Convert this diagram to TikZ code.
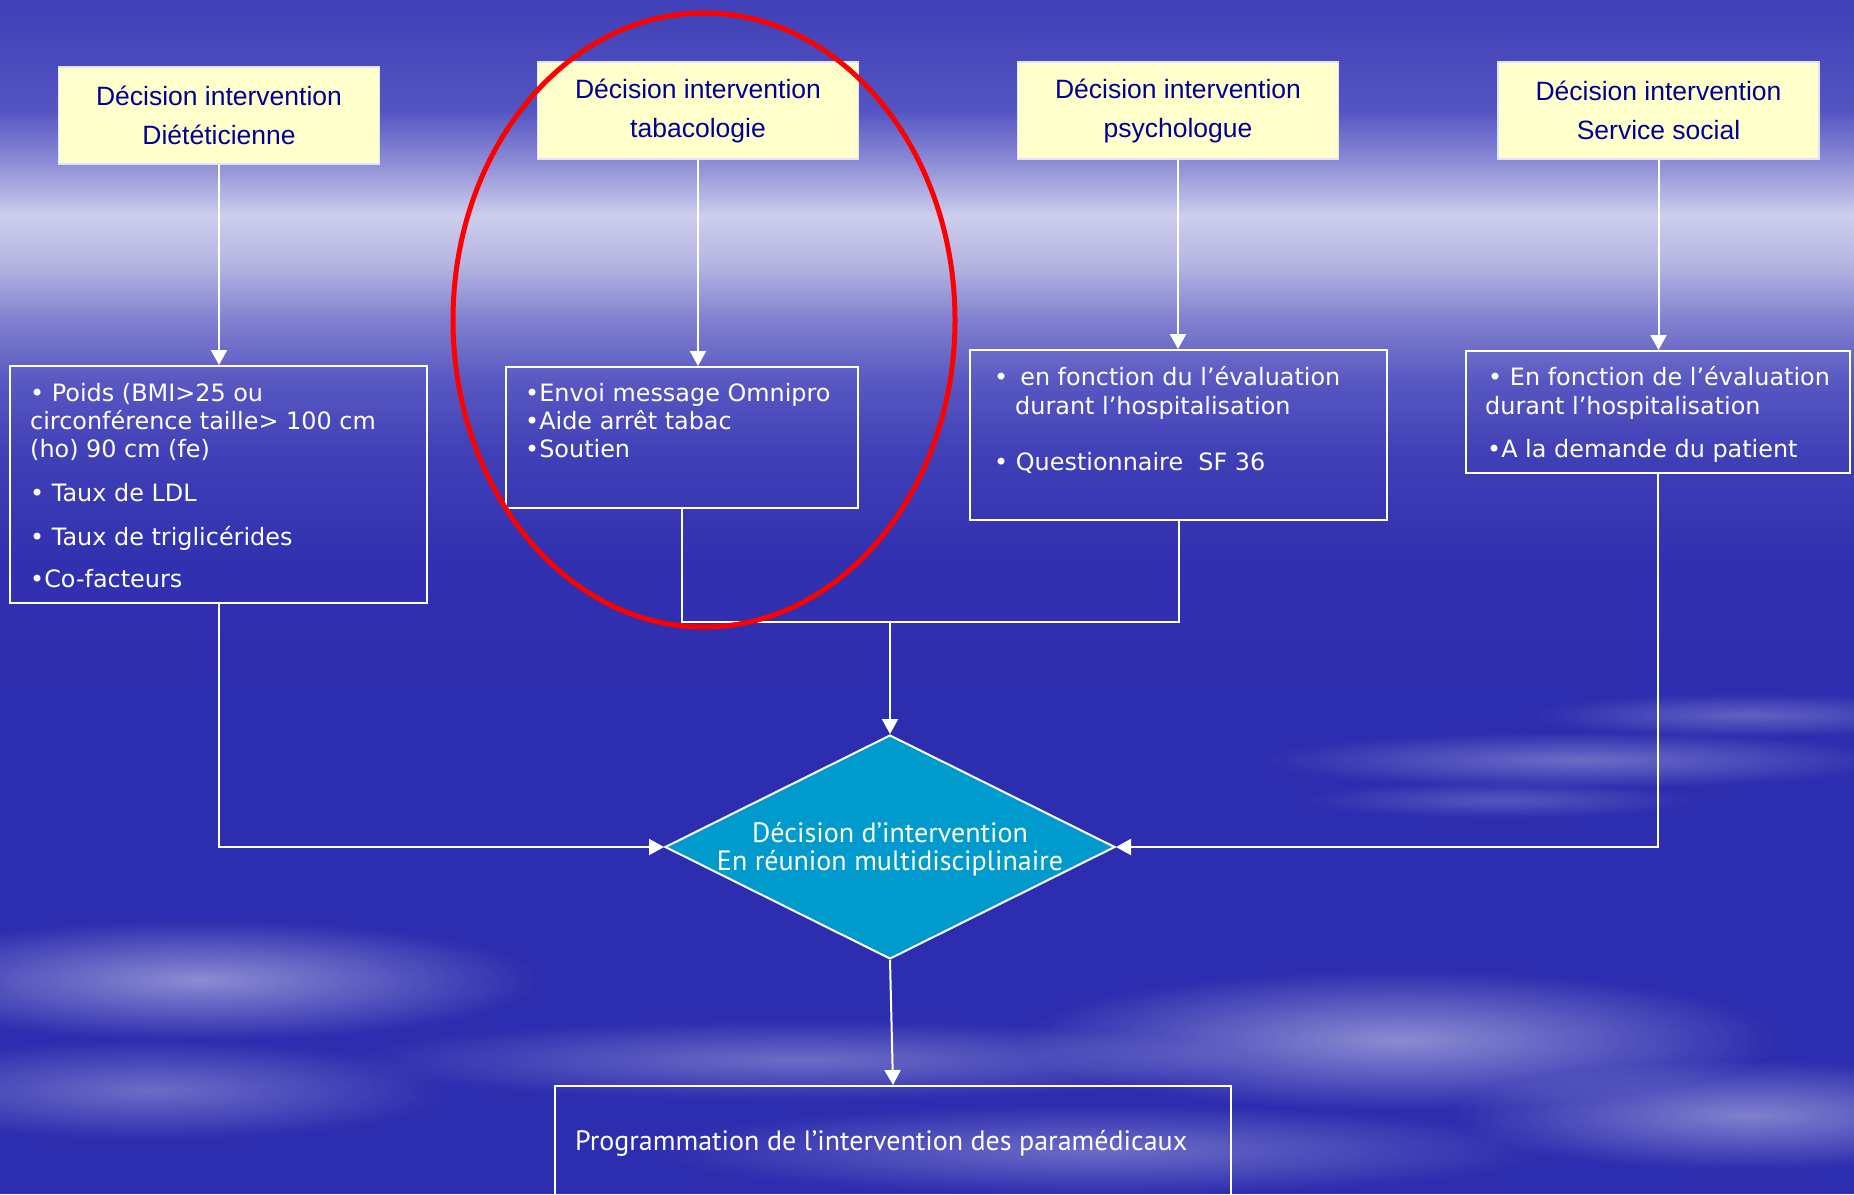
\documentclass[tikz,border=0pt]{standalone}
\usepackage{fontspec}
\setmainfont{Liberation Sans}
\newfontfamily\listfont{DejaVu Sans}
\newfontfamily\narrowfont{PT Sans}
\usetikzlibrary{arrows.meta,shapes.geometric,fadings}

% palette
\definecolor{skybase}{RGB}{45,45,175}
\definecolor{sky0}{RGB}{64,64,184}
\definecolor{sky1}{RGB}{84,84,194}
\definecolor{sky2}{RGB}{150,150,218}
\definecolor{sky3}{RGB}{205,205,236}
\definecolor{sky4}{RGB}{180,180,226}
\definecolor{sky5}{RGB}{128,128,207}
\definecolor{sky6}{RGB}{88,88,194}
\definecolor{sky7}{RGB}{62,62,182}
\definecolor{sky8}{RGB}{48,48,176}
\definecolor{navytext}{RGB}{0,0,150}
\definecolor{paleyellow}{RGB}{255,255,204}
\definecolor{decisioncyan}{RGB}{0,155,204}
\definecolor{frameline}{RGB}{225,225,250}

\tikzfading[name=softcloud, inner color=transparent!0, outer color=transparent!100]

\begin{document}
\begin{tikzpicture}[x=1pt,y=-1pt,
  ybox/.style={draw=frameline, line width=1.5pt, fill=paleyellow,
    minimum width=321pt, minimum height=97pt, inner sep=0pt,
    align=center, text=navytext, font=\fontsize{26.5}{39}\selectfont},
  wbox/.style={draw=white, line width=2pt, inner sep=0pt},
  wtext/.style={anchor=base west, inner sep=0pt, text=white,
    font=\listfont\fontsize{23.9}{28.4}\selectfont},
  ntext/.style={inner sep=0pt, text=white,
    font=\narrowfont\fontsize{28}{28.4}\selectfont},
  conn/.style={draw=white, line width=2pt},
  arr/.style={conn, -{Triangle[length=15pt,width=16pt]}},
  cloud/.style={fill=white, path fading=softcloud}
]

\useasboundingbox (0,0) rectangle (1854,1194);
\clip (0,0) rectangle (1854,1194);

% ---- sky background ----
\fill[skybase] (0,0) rectangle (1854,1194);
\shade[top color=sky0, bottom color=sky1] (0,0) rectangle (1854,110.5);
\shade[top color=sky1, bottom color=sky2] (0,110) rectangle (1854,170.5);
\shade[top color=sky2, bottom color=sky3] (0,170) rectangle (1854,215.5);
\shade[top color=sky3, bottom color=sky4] (0,215) rectangle (1854,265.5);
\shade[top color=sky4, bottom color=sky5] (0,265) rectangle (1854,320.5);
\shade[top color=sky5, bottom color=sky6] (0,320) rectangle (1854,380.5);
\shade[top color=sky6, bottom color=sky7] (0,380) rectangle (1854,460.5);
\shade[top color=sky7, bottom color=sky8] (0,460) rectangle (1854,570.5);
\shade[top color=sky8, bottom color=skybase] (0,570) rectangle (1854,700);

% soft clouds in the lower part
\fill[cloud, fill opacity=.45] (200,980) ellipse [x radius=340pt, y radius=60pt];
\fill[cloud, fill opacity=.30] (150,1090) ellipse [x radius=300pt, y radius=50pt];
\fill[cloud, fill opacity=.30] (800,1060) ellipse [x radius=450pt, y radius=40pt];
\fill[cloud, fill opacity=.30] (1100,1150) ellipse [x radius=450pt, y radius=45pt];
\fill[cloud, fill opacity=.45] (1400,1040) ellipse [x radius=380pt, y radius=70pt];
\fill[cloud, fill opacity=.40] (1750,1115) ellipse [x radius=300pt, y radius=55pt];
\fill[cloud, fill opacity=.30] (1580,760) ellipse [x radius=320pt, y radius=28pt];
\fill[cloud, fill opacity=.25] (1750,715) ellipse [x radius=220pt, y radius=22pt];
\fill[cloud, fill opacity=.20] (1500,800) ellipse [x radius=200pt, y radius=18pt];

% ---- decision headers ----
\node[ybox] (Ydiet) at (219,115.5) {Décision intervention\\Diététicienne};
\node[ybox] (Ytabac) at (698,110.5) {Décision intervention\\tabacologie};
\node[ybox] (Ypsy) at (1178,110.5) {Décision intervention\\psychologue};
\node[ybox] (Ysoc) at (1658.5,110.5) {Décision intervention\\Service social};

% ---- criteria boxes ----
\node[wbox, minimum width=417pt, minimum height=237pt] (Wdiet) at (218.5,484.5) {};
\node[wbox, minimum width=352pt, minimum height=141pt] (Wtabac) at (682,437.5) {};
\node[wbox, minimum width=417pt, minimum height=170pt] (Wpsy) at (1178.5,435) {};
\node[wbox, minimum width=384pt, minimum height=122pt] (Wsoc) at (1658,412) {};

\node[wtext] (d1) at (30,401) {• Poids (BMI>25 ou};
\node[wtext] (d2) at (30,429) {circonférence taille> 100 cm};
\node[wtext] (d3) at (30,457) {(ho) 90 cm (fe)};
\node[wtext] (d4) at (30,501) {• Taux de LDL};
\node[wtext] (d5) at (30,545) {• Taux de triglicérides};
\node[wtext] (d6) at (30,587) {•Co-facteurs};

\node[wtext] (t1) at (525,401) {•Envoi message Omnipro};
\node[wtext] (t2) at (525,429) {•Aide arrêt tabac};
\node[wtext] (t3) at (525,457) {•Soutien};

\node[wtext] (p1) at (994,385) {•\hspace{12pt}en fonction du l’évaluation};
\node[wtext] (p2) at (1015,414) {durant l’hospitalisation};
\node[wtext] (p3) at (994,470) {• Questionnaire\ \ SF 36};

\node[wtext] (s1) at (1488,385) {• En fonction de l’évaluation};
\node[wtext] (s2) at (1485,414) {durant l’hospitalisation};
\node[wtext] (s3) at (1487,457) {•A la demande du patient};

% ---- multidisciplinary decision ----
\node[diamond, draw=white, line width=2pt, fill=decisioncyan,
      minimum width=450pt, minimum height=224pt, inner sep=0pt] (D) at (890,847) {};
\node[ntext, anchor=base] (Dl1) at (890,842) {Décision d’intervention};
\node[ntext, anchor=base] (Dl2) at (890,870) {En réunion multidisciplinaire};

% ---- final programming box ----
\node[wbox, minimum width=676pt, minimum height=124pt] (P) at (893,1148) {};
\node[ntext, anchor=base west] (Pl) at (575,1150) {Programmation de l’intervention des paramédicaux};

% ---- connectors ----
\coordinate (J) at (890,622);
\draw[arr] (Ydiet.south) -- (Ydiet.south |- Wdiet.north);
\draw[arr] (Ytabac.south) -- (Ytabac.south |- Wtabac.north);
\draw[arr] (Ypsy.south) -- (Ypsy.south |- Wpsy.north);
\draw[arr] (Ysoc.south) -- (Ysoc.south |- Wsoc.north);
\draw[conn] (Wtabac.south) |- (J);
\draw[conn] (Wpsy.south) |- (J);
\draw[arr] (J) -- (D.north);
\draw[arr] (Wdiet.south) |- (D.west);
\draw[arr] (Wsoc.south) |- (D.east);
\draw[arr] (D.south) -- (P.north);

% ---- highlight ring ----
\draw[red, line width=5pt] (704,320) ellipse [x radius=251pt, y radius=307pt];

\end{tikzpicture}
\end{document}
